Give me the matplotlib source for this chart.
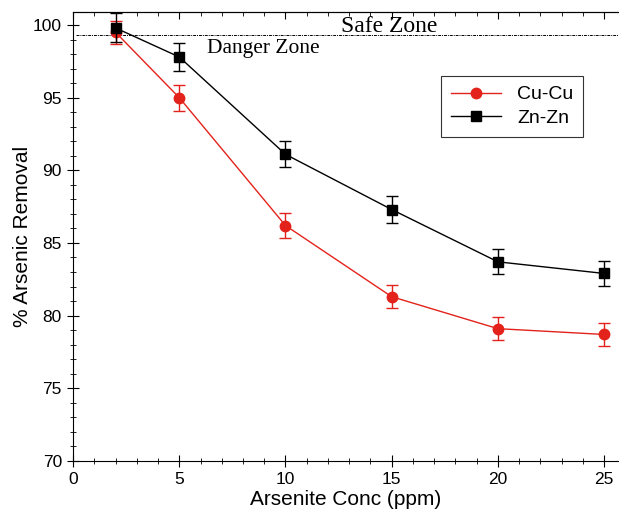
import matplotlib
matplotlib.use('Agg')
import matplotlib.pyplot as plt
from matplotlib.ticker import MultipleLocator
from matplotlib.lines import Line2D

plt.rcParams['font.family'] = ['Liberation Sans', 'DejaVu Sans']

# Datos
conc = [2, 5, 10, 15, 20, 25]
cu_cu = [99.5, 95.0, 86.2, 81.3, 79.1, 78.7]
cu_err = [0.8, 0.9, 0.85, 0.8, 0.8, 0.8]
zn_zn = [99.8, 97.8, 91.1, 87.3, 83.7, 82.9]
zn_err = [1.0, 0.95, 0.9, 0.9, 0.85, 0.85]
danger_level = 99.3

rojo = '#e3231b'

fig = plt.figure(figsize=(6.19, 5.19), dpi=100)
ax = fig.add_axes([0.118, 0.112, 0.882, 0.865])

ax.errorbar(conc, cu_cu, yerr=cu_err, color=rojo, marker='o', markersize=7.5,
            linewidth=1, capsize=4, elinewidth=1, zorder=3)
ax.errorbar(conc, zn_zn, yerr=zn_err, color='black', marker='s', markersize=7.5,
            linewidth=1, capsize=4, elinewidth=1, zorder=4)

ax.axhline(danger_level, xmin=0.005, color='black', linestyle=(0, (3, 1, 1, 1)), linewidth=0.7)
ax.text(12.6, 99.9, 'Safe Zone', family='Liberation Serif', fontsize=17, va='center')
ax.text(6.3, 98.4, 'Danger Zone', family='Liberation Serif', fontsize=15.5, va='center')

ax.set_xlim(0, 25.7)
ax.set_ylim(70, 100.9)
ax.xaxis.set_major_locator(MultipleLocator(5))
ax.xaxis.set_minor_locator(MultipleLocator(1))
ax.yaxis.set_major_locator(MultipleLocator(5))
ax.yaxis.set_minor_locator(MultipleLocator(1))
ax.tick_params(which='major', direction='inout', length=9, labelsize=12.5)
ax.tick_params(which='minor', direction='inout', length=5)
ax.spines['right'].set_visible(False)

# ticks del borde superior hacia adentro
top = ax.secondary_xaxis('top')
top.xaxis.set_major_locator(MultipleLocator(5))
top.xaxis.set_minor_locator(MultipleLocator(1))
top.tick_params(which='major', direction='in', length=5, labeltop=False)
top.tick_params(which='minor', direction='in', length=3)

ax.set_xlabel('Arsenite Conc (ppm)', fontsize=15, labelpad=2)
ax.set_ylabel('% Arsenic Removal', fontsize=15, labelpad=1)

handles = [Line2D([], [], color=rojo, marker='o', markersize=7.5, linewidth=1),
           Line2D([], [], color='black', marker='s', markersize=7.5, linewidth=1)]
leg = ax.legend(handles, ['Cu-Cu', 'Zn-Zn'], loc='upper right', bbox_to_anchor=(0.934, 0.857),
                fontsize=14, frameon=True, fancybox=False, edgecolor='black',
                handlelength=2.6, borderpad=0.5, labelspacing=0.3, borderaxespad=0)
leg.get_frame().set_linewidth(0.8)

plt.savefig('out.png', dpi=100)
